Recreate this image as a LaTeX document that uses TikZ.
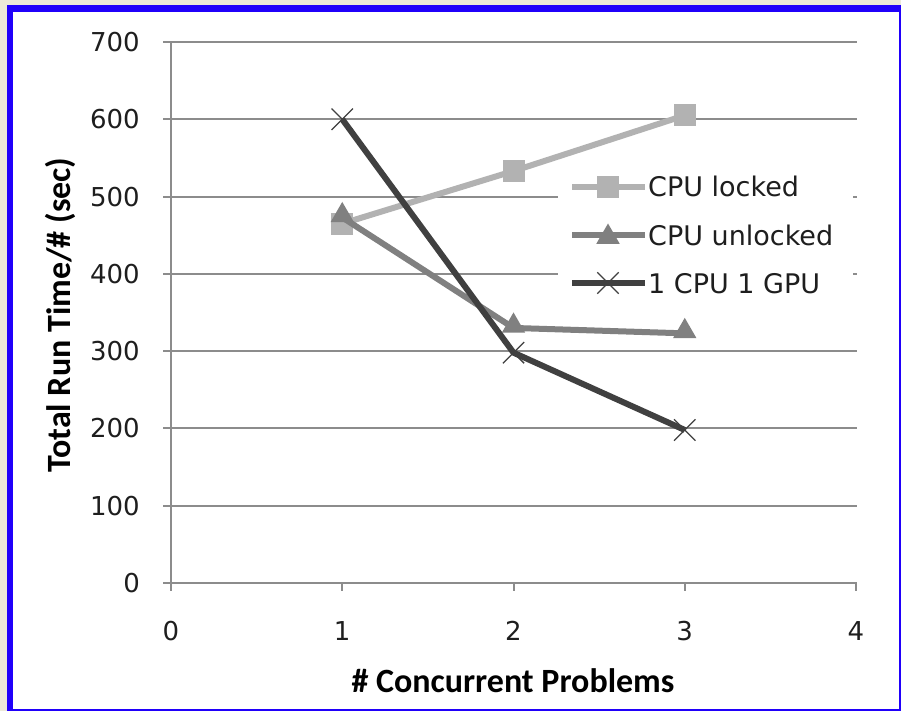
\documentclass[tikz,border=0pt]{standalone}
\usepackage{fontspec}
\setmainfont{DejaVu Sans}
\newfontfamily\titlefont{Carlito}
\usetikzlibrary{shapes.geometric,shapes.misc}
\definecolor{bgbeige}{RGB}{236,233,216}
\definecolor{frameblue}{RGB}{32,0,250}
\definecolor{gridgray}{RGB}{140,140,140}
\definecolor{lockcol}{RGB}{178,178,178}
\definecolor{unlockcol}{RGB}{128,128,128}
\definecolor{gpucol}{RGB}{64,64,64}
\definecolor{textcol}{RGB}{30,30,30}
\tikzset{
  gridline/.style={draw=gridgray, line width=2pt},
  ticklab/.style={font=\fontsize{26}{30}\selectfont, text=textcol, inner sep=0pt},
  legtext/.style={font=\fontsize{27}{31}\selectfont, text=textcol, inner sep=0pt, anchor=base west},
  axtitle/.style={font=\titlefont\bfseries\fontsize{34}{39}\selectfont, text=black, inner sep=0pt},
  lockline/.style={draw=lockcol, line width=6pt, line join=round},
  unlockline/.style={draw=unlockcol, line width=6pt, line join=round},
  gpuline/.style={draw=gpucol, line width=6pt, line join=round},
  sqmark/.style={rectangle, fill=lockcol, minimum size=22pt, inner sep=0pt},
  trimark/.style={regular polygon, regular polygon sides=3, fill=unlockcol, minimum size=27pt, inner sep=0pt},
  xmark/.style={cross out, draw=gpucol, line width=1.3pt, minimum size=20pt, inner sep=0pt}
}
\begin{document}
\begin{tikzpicture}[x=1pt,y=-1pt]
\useasboundingbox (0,0) rectangle (901,711);
% frame
\fill[bgbeige] (0,0) rectangle (901,711);
\fill[frameblue] (7,5) rectangle (901,711);
\fill[white] (13,12) rectangle (899,709);
% gridlines and y ticks
\foreach \v in {0,100,...,700} {
  \pgfmathsetmacro{\yy}{583-\v*0.7729}
  \draw[gridline] (163,\yy) -- (857,\yy);
  \node[ticklab, anchor=east] (yl\v) at (140,\yy) {\v};
}
% y axis
\draw[gridline] (171,42) -- (171,583);
% x ticks
\foreach \k in {0,1,2,3,4} {
  \pgfmathsetmacro{\xx}{171+\k*171.25}
  \draw[gridline] (\xx,583) -- (\xx,591);
  \node[ticklab] (xl\k) at (\xx,631) {\k};
}
% axis titles
\node[axtitle] (xtitle) at (513,681) {\# Concurrent Problems};
\node[axtitle, rotate=90] (ytitle) at (60,315) {Total Run Time/\# (sec)};
% legend background
\fill[white] (558,163) rectangle (853,305);
% data points
\coordinate (L1) at (342.25,{583-465*0.7729});
\coordinate (L2) at (513.5,{583-533*0.7729});
\coordinate (L3) at (684.75,{583-605*0.7729});
\coordinate (U1) at (342.25,{583-473*0.7729});
\coordinate (U2) at (513.5,{583-330*0.7729});
\coordinate (U3) at (684.75,{583-323*0.7729});
\coordinate (G1) at (342.25,{583-600*0.7729});
\coordinate (G2) at (513.5,{583-298*0.7729});
\coordinate (G3) at (684.75,{583-198*0.7729});
% series lines
\draw[lockline] (L1) -- (L2) -- (L3);
\foreach \p in {L1,L2,L3} \node[sqmark] at (\p) {};
\draw[unlockline] (U1) -- (U2) -- (U3);
\foreach \p in {U1,U2,U3} \node[trimark] at ([yshift=2pt]\p) {};
\draw[gpuline] (G1) -- (G2) -- (G3);
\foreach \p in {G1,G2,G3} \node[xmark] at (\p) {};
% legend
\coordinate (la) at (572,187); \coordinate (lb) at (645,187);
\coordinate (ua) at (572,235); \coordinate (ub) at (645,235);
\coordinate (ga) at (572,283); \coordinate (gb) at (645,283);
\draw[lockline] (la) -- (lb);
\node[sqmark] (lm) at (608,187) {};
\draw[unlockline] (ua) -- (ub);
\node[trimark] (um) at (608,237) {};
\draw[gpuline] (ga) -- (gb);
\node[xmark] (gm) at (608,283) {};
\node[legtext] (lt) at (648,197) {CPU locked};
\node[legtext] (ut) at (648,245) {CPU unlocked};
\node[legtext] (gt) at (648,293) {1 CPU 1 GPU};
\end{tikzpicture}
\end{document}
